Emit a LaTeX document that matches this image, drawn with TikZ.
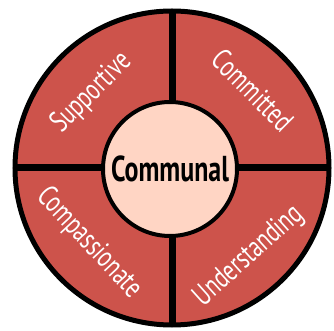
\documentclass[tikz,border=0pt]{standalone}
\usepackage{fontspec}
\setmainfont[FakeStretch=0.72]{PT Sans}
\definecolor{wheelred}{HTML}{CD534B}
\definecolor{hubpeach}{HTML}{FFD5C4}
\tikzset{trait/.style={text=white, font=\fontsize{30}{30}\selectfont}}

\begin{document}
\begin{tikzpicture}[x=1pt,y=1pt]
        \useasboundingbox (-172,-163) rectangle (162,168);
        \draw[line width=5, fill=wheelred] (0,0) circle (157);
        \begin{scope}[line width=7] 
            \draw (0,157) -- (0,-157);
            \draw (-157,0) -- (157,0);
        \end{scope}
        \node[trait, rotate=45] (sup) at (137:110) {Supportive};
        \node[trait, rotate=-45] (com) at (44:112) {Committed};
        \node[trait, rotate=-47] (cps) at (222:112) {Compassionate};
        \node[trait, rotate=42] (und) at (-49:117) {Understanding};
        \node[circle, draw, line width=4, fill=hubpeach, minimum size=134, inner sep=0,
              font=\bfseries\fontsize{36}{36}\selectfont] (hub) at (-2,-1) {Communal};
    \end{tikzpicture}
\end{document}
